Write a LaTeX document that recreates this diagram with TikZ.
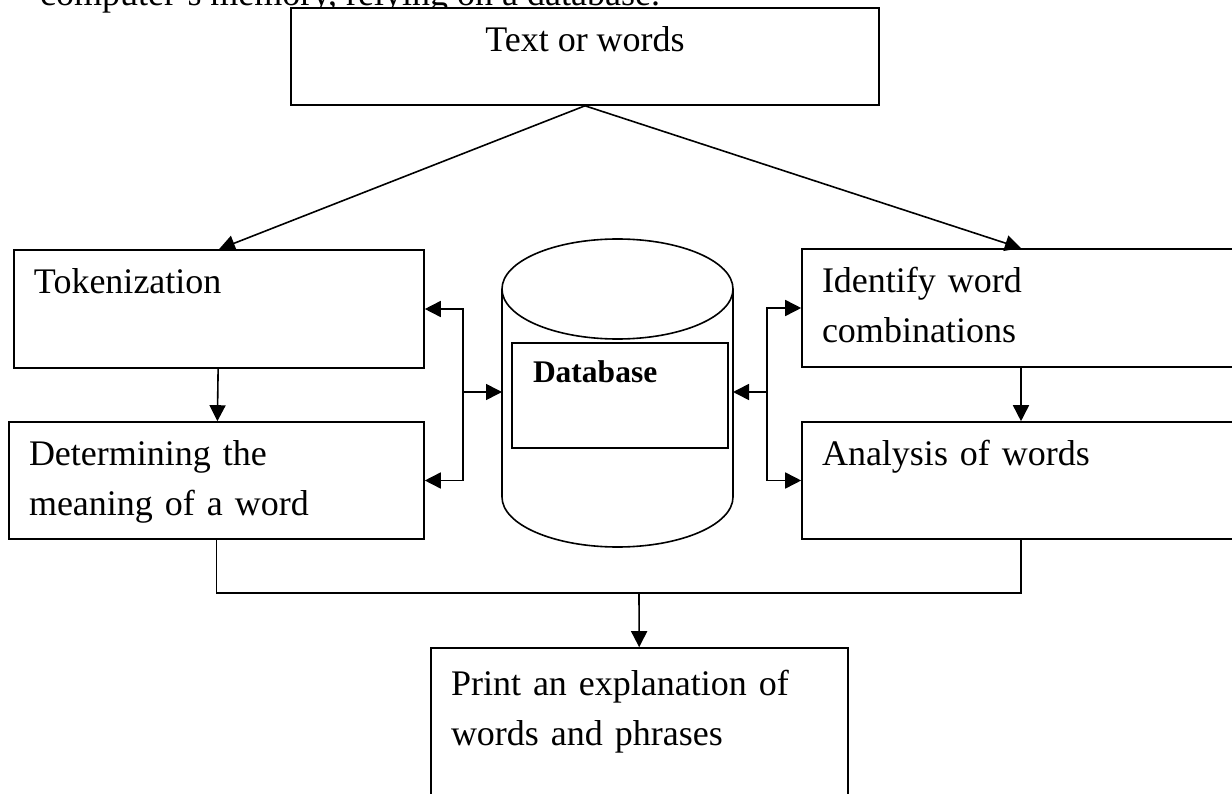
\documentclass[tikz,border=0pt]{standalone}
\usepackage{fontspec}
\setmainfont{Liberation Serif}
\usetikzlibrary{arrows.meta}
\tikzset{
  box/.style={draw, line width=1.6pt, rectangle, inner xsep=20pt, inner ysep=0pt, align=left, font=\fontsize{36}{50}\selectfont},
  arr/.style={line width=1.6pt, -{Triangle[length=16pt,width=16pt]}},
  biarr/.style={line width=1.6pt, {Triangle[length=16pt,width=16pt]}-{Triangle[length=16pt,width=16pt]}},
}
\begin{document}
\begin{tikzpicture}[x=1pt,y=-1pt]
\useasboundingbox (0,0) rectangle (1232,794);
\node[anchor=base west, inner sep=0pt, font=\fontsize{36}{50}\selectfont] (intro) at (40,6) {computer's memory, relying on a database.};
\node[box, fill=white, align=center, minimum width=588pt, minimum height=97pt, text depth=35pt] (src) at (585,56.5) {Text or words};
\node[box, text width=370pt, minimum height=118pt] (tok) at (219,309) {\strut Tokenization\\\strut};
\node[box, text width=375pt, minimum height=117pt] (mean) at (216.5,480.5) {\strut Determining the\\\strut meaning of a word};
\node[box, text width=398pt, minimum height=118pt] (comb) at (1021,308) {\strut Identify word\\\strut combinations};
\node[box, text width=398pt, minimum height=117pt] (anal) at (1021,480.5) {\strut Analysis of words\\\strut};
\node[box, text width=377pt, minimum height=174pt] (out) at (639.5,735) {\strut Print an explanation of\\\strut words and phrases\\\strut};
\draw[line width=1.6pt] (617.5,289) ellipse [x radius=115.5pt, y radius=50pt];
\draw[line width=1.6pt] (502,289) -- (502,497) arc[start angle=180, end angle=360, x radius=115.5pt, y radius=50pt] -- (733,289);
\node[draw, line width=1.1pt, minimum width=216pt, minimum height=105pt, inner xsep=21pt, inner ysep=0pt, text width=174pt, align=left, font=\fontsize{31.5}{44}\selectfont\bfseries] (db) at (620,395.5) {\strut Database\\\strut};
\coordinate (cylL) at (502,392);
\coordinate (cylR) at (733,392);
\coordinate (busL) at (463,392);
\coordinate (busR) at (767,392);
\coordinate (join) at (639,593);
\draw[arr] (src.south) -- (tok.north);
\draw[arr] (src.south) -- (comb.north);
\draw[arr] (tok) -- (mean);
\draw[arr] (comb) -- (anal);
\draw[biarr] (tok.east) -| (busL) |- (mean.east);
\draw[arr] (busL) -- (cylL);
\draw[biarr] (comb.west) -| (busR) |- (anal.west);
\draw[arr] (busR) -- (cylR);
\draw[line width=1.6pt] (mean.south) |- (join) -| (anal.south);
\draw[arr] (join) -- (out);
\end{tikzpicture}
\end{document}
